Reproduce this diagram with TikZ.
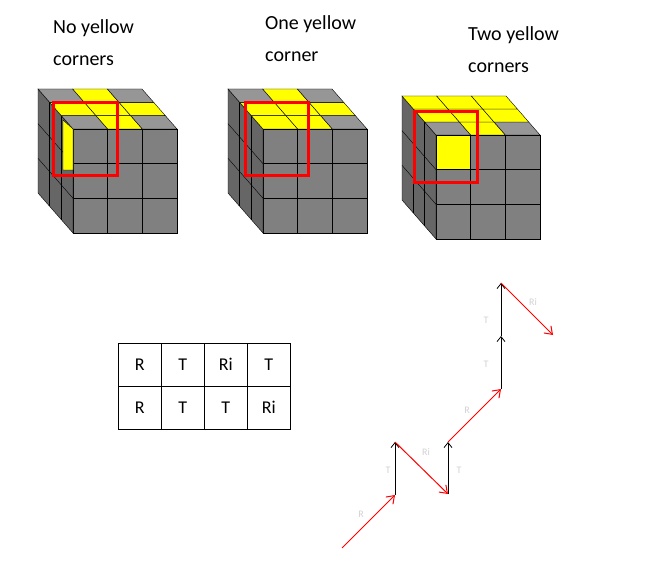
\documentclass[tikz,border=0pt]{standalone}
\usepackage{fontspec}
\setmainfont{Carlito}
\usetikzlibrary{arrows.meta}
\definecolor{fr}{HTML}{808080}
\definecolor{tp}{HTML}{969696}
\definecolor{lf}{HTML}{666666}
\definecolor{yl}{HTML}{FFFF00}
\newcommand\drawcube[5]{%
 \def\s{34.67}
 \fill[fr,draw=black] (#1,#2) rectangle ++(3*\s,3*\s);
 \foreach \k in {1,2}{\draw (#1+\k*\s,#2)--++(0,3*\s); \draw (#1,#2+\k*\s)--++(3*\s,0);}
 \fill[lf,draw=black] (#1,#2)--++(#3,#4)--++(0,3*\s)--(#1,#2+3*\s)--cycle;
 \foreach \k in {1,2}{\draw (#1+\k*#3/3,#2+\k*#4/3)--++(0,3*\s); \draw (#1,#2+\k*\s)--++(#3,#4);}
 \foreach \c [count=\n from 0] in {#5}{%
   \pgfmathtruncatemacro\ii{mod(\n,3)}\pgfmathtruncatemacro\jj{div(\n,3)}%
   \fill[\c,draw=black] (#1+\ii*\s+\jj*#3/3,#2+\jj*#4/3)--++(\s,0)--++(#3/3,#4/3)--++(-\s,0)--cycle;}
}
\tikzset{title/.style={anchor=north west,align=left,font=\fontsize{20}{32}\selectfont,inner sep=0},
 redbox/.style={draw=red,line width=3pt},
 cell/.style={draw=black,minimum width=43pt,minimum height=43pt,font=\fontsize{18}{20}\selectfont,anchor=north west,inner sep=0},
 rmove/.style={red,line width=1pt,-{Straight Barb[length=7pt,width=10pt]}},
 tmove/.style={black,line width=0.8pt,-{Straight Barb[length=5pt,width=8pt]}},
 lab/.style={text=black!18,font=\fontsize{10}{11}\selectfont}}
\begin{document}
\begin{tikzpicture}[x=1pt,y=-1pt]
\useasboundingbox (0,0) rectangle (653,569);
\node[title] (t1) at (53,19) {No yellow\\corners};
\node[title] (t2) at (265,15) {One yellow\\corner};
\node[title] (t3) at (468,26) {Two yellow\\corners};
\drawcube{73}{129}{-35}{-40}{tp,yl,tp,yl,yl,yl,tp,yl,tp}
\fill[yl,draw=black] (73,129)--(63,120)--(63,170)--(73,170)--cycle;
\drawcube{263}{129}{-35}{-40}{yl,yl,tp,yl,yl,yl,tp,yl,tp}
\drawcube{436}{135}{-34}{-39}{tp,yl,tp,yl,yl,yl,yl,yl,yl}
\fill[yl,draw=black] (436,135) rectangle ++(34.67,34.67);
\draw[redbox] (53,103) rectangle (117,176);
\draw[redbox] (245,103) rectangle (308,176);
\draw[redbox] (414,112) rectangle (477,183);
\foreach \t [count=\n from 0] in {R,T,Ri,T}{\node[cell] (a\n) at (118+43*\n,343) {\t};}
\foreach \t [count=\n from 0] in {R,T,T,Ri}{\node[cell] (b\n) at (118+43*\n,386) {\t};}
\coordinate (p0) at (342,548);
\coordinate (p1) at (395,495);
\coordinate (p2) at (395,442);
\coordinate (p3) at (448,494);
\coordinate (p4) at (448,442);
\coordinate (p5) at (501,389);
\coordinate (p6) at (501,336);
\coordinate (p7) at (501,283);
\coordinate (p8) at (553,335);
\draw[rmove] (p0)--(p1);
\draw[tmove] (p1)--(p2);
\draw[rmove] (p2)--(p3);
\draw[tmove] (p3)--(p4);
\draw[rmove] (p4)--(p5);
\draw[tmove] (p5)--(p6);
\draw[tmove] (p6)--(p7);
\draw[rmove] (p7)--(p8);
\node[lab] (l1) at (361,514) {R};
\node[lab] (l2) at (388,470) {T};
\node[lab] (l3) at (426,452) {Ri};
\node[lab] (l4) at (459,470) {T};
\node[lab] (l5) at (467,410) {R};
\node[lab] (l6) at (486,364) {T};
\node[lab] (l7) at (486,320) {T};
\node[lab] (l8) at (533,302) {Ri};
\end{tikzpicture}
\end{document}
